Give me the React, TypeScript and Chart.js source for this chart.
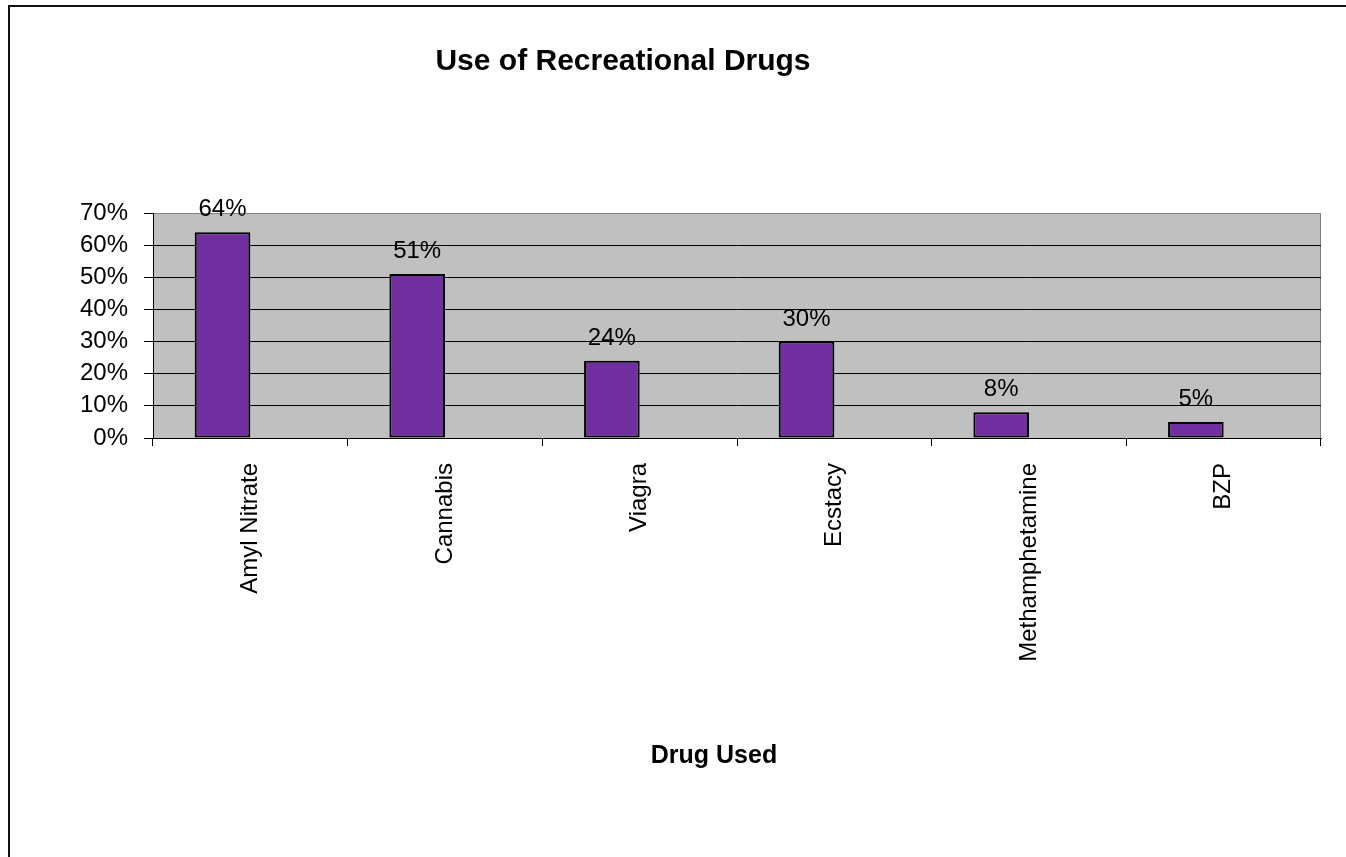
import React, { useEffect, useRef } from "react";
import { Chart, registerables } from "chart.js";

Chart.register(...registerables);

const categories = ["Amyl Nitrate", "Cannabis", "Viagra", "Ecstacy", "Methamphetamine", "BZP"];
const usePercent = [64, 51, 24, 30, 8, 5];
const emptySeries = [null, null, null, null, null, null];
const yTicks = [0, 10, 20, 30, 40, 50, 60, 70];
const chartTitle = "Use of Recreational Drugs";
const xAxisTitle = "Drug Used";

const FONT = "Arial, 'Liberation Sans', sans-serif";
const W = 1346;
const H = 857;

export default function App() {
  const ref = useRef<HTMLCanvasElement | null>(null);

  useEffect(() => {
    const canvas = ref.current;
    if (!canvas) return;

    const plotBg = {
      id: "plotBg",
      beforeDraw(chart: any) {
        const { ctx, chartArea: a } = chart;
        ctx.save();
        ctx.fillStyle = "#C0C0C0";
        ctx.fillRect(a.left, a.top, a.right - a.left, a.bottom - a.top);
        ctx.strokeStyle = "#808080";
        ctx.lineWidth = 1;
        ctx.strokeRect(a.left + 0.5, a.top + 0.5, a.right - a.left - 1, a.bottom - a.top);
        ctx.restore();
      },
    };

    const texts = {
      id: "texts",
      afterDatasetsDraw(chart: any) {
        const { ctx } = chart;
        const meta = chart.getDatasetMeta(0);
        ctx.save();
        ctx.fillStyle = "#000";
        ctx.font = `24px ${FONT}`;
        ctx.textAlign = "center";
        ctx.textBaseline = "alphabetic";
        meta.data.forEach((el: any, i: number) => {
          const v = usePercent[i];
          ctx.fillText(`${v}%`, el.x, el.y - 16);
        });
        ctx.restore();
      },
      afterDraw(chart: any) {
        const { ctx } = chart;
        ctx.save();
        ctx.fillStyle = "#000";
        ctx.textAlign = "center";
        ctx.textBaseline = "alphabetic";
        ctx.font = `bold 30px ${FONT}`;
        ctx.fillText(chartTitle, 623, 70);
        ctx.font = `bold 25px ${FONT}`;
        ctx.fillText(xAxisTitle, 714, 763);
        ctx.restore();
      },
    };

    const chart = new Chart(canvas, {
      type: "bar",
      data: {
        labels: categories,
        datasets: [
          {
            label: "Use",
            data: usePercent,
            backgroundColor: "#7030A0",
            borderColor: "#000",
            borderWidth: 2,
            borderSkipped: false,
            categoryPercentage: 2 / 3.5,
            barPercentage: 1,
          },
          {
            label: "Empty",
            data: emptySeries as any,
            backgroundColor: "#9999FF",
            categoryPercentage: 2 / 3.5,
            barPercentage: 1,
          },
        ],
      },
      options: {
        responsive: false,
        animation: false,
        devicePixelRatio: 1,
        layout: { padding: { left: 0, right: 25, top: 213, bottom: 0 } },
        plugins: {
          legend: { display: false },
          title: { display: false },
          tooltip: { enabled: false },
        },
        scales: {
          x: {
            offset: true,
            border: { display: true, color: "#000", width: 1 },
            grid: {
              offset: true,
              drawOnChartArea: false,
              drawTicks: true,
              tickLength: 8,
              color: "#000",
            },
            ticks: {
              color: "#000",
              font: { size: 24, family: FONT },
              minRotation: 90,
              maxRotation: 90,
              padding: 17,
              autoSkip: false,
            },
            afterFit(scale: any) {
              scale.height = H - 438;
            },
          },
          y: {
            min: 0,
            max: 70,
            border: { display: true, color: "#000", width: 1 },
            grid: {
              color: (c: any) => (c.tick && c.tick.value === 70 ? "#808080" : c.tick && c.tick.value === 0 ? "#000" : "#000"),
              tickColor: "#000",
              tickLength: 9,
              lineWidth: 1,
            },
            afterBuildTicks(scale: any) {
              scale.ticks = yTicks.map((v) => ({ value: v }));
            },
            ticks: {
              color: "#000",
              font: { size: 24, family: FONT },
              padding: 16,
              callback: (v: any) => `${v}%`,
            },
            afterFit(scale: any) {
              scale.width = 153;
            },
          },
        },
      },
      plugins: [plotBg, texts],
    });

    return () => chart.destroy();
  }, []);

  return (
    <div
      style={{
        position: "fixed",
        left: 0,
        top: 0,
        width: W,
        height: H,
        overflow: "hidden",
        background: "#fff",
      }}
    >
      <canvas ref={ref} width={W} height={H} style={{ position: "absolute", left: 0, top: 0, width: W, height: H }} />
      <div
        style={{
          position: "absolute",
          left: 8,
          top: 5,
          width: W + 50,
          height: H + 50,
          borderLeft: "2px solid #111",
          borderTop: "2px solid #111",
          boxSizing: "border-box",
          pointerEvents: "none",
        }}
      />
    </div>
  );
}
